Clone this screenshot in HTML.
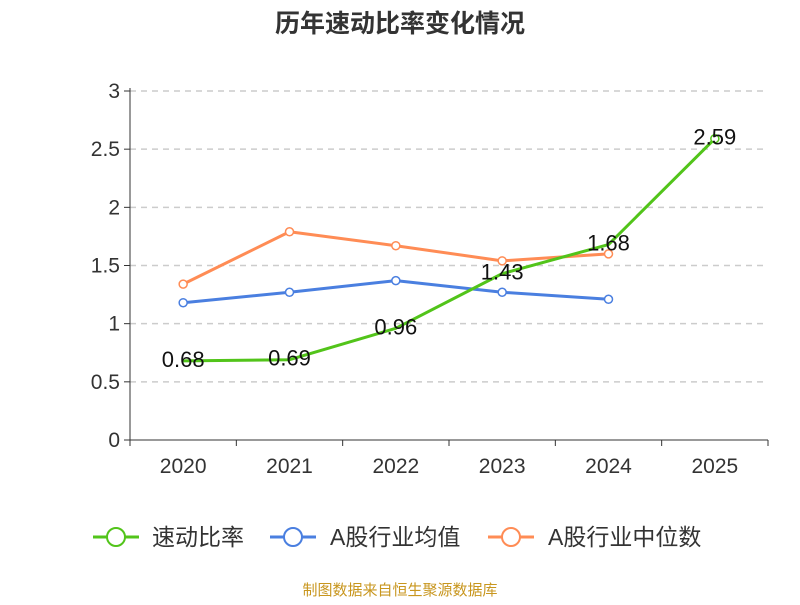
<!DOCTYPE html>
<html><head><meta charset="utf-8"><style>
body{margin:0;background:#fff;font-family:"Liberation Sans","Noto Sans CJK SC",sans-serif}
</style></head><body>
<svg width="800" height="600" xmlns="http://www.w3.org/2000/svg" font-family="Liberation Sans, Noto Sans CJK SC, sans-serif">
<text x="400" y="32" text-anchor="middle" font-size="25" font-weight="bold" fill="#333">历年速动比率变化情况</text>
<g id="grid"></g><g id="axes"></g><g id="series"></g>
<g font-size="23" fill="#333">
<g><line x1="93" y1="537" x2="139" y2="537" stroke="#52c41a" stroke-width="3"/><circle cx="116" cy="537" r="9" fill="#fff" stroke="#52c41a" stroke-width="2"/><text x="152" y="545">速动比率</text></g>
<g><line x1="270" y1="537" x2="316" y2="537" stroke="#4a7fe0" stroke-width="3"/><circle cx="293" cy="537" r="9" fill="#fff" stroke="#4a7fe0" stroke-width="2"/><text x="330" y="545">A股行业均值</text></g>
<g><line x1="488" y1="537" x2="534" y2="537" stroke="#ff8c55" stroke-width="3"/><circle cx="511" cy="537" r="9" fill="#fff" stroke="#ff8c55" stroke-width="2"/><text x="548" y="545">A股行业中位数</text></g>
</g>
<text x="400" y="595" text-anchor="middle" font-size="15" fill="#c8961e">制图数据来自恒生聚源数据库</text>
</svg>
<script>
const categories=["2020","2021","2022","2023","2024","2025"];
const quickRatio=[0.68,0.69,0.96,1.43,1.68,2.59];
const industryMean=[1.18,1.27,1.37,1.27,1.21];
const industryMedian=[1.34,1.79,1.67,1.54,1.60];
const yTicks=[0,0.5,1,1.5,2,2.5,3];
const yTickLabels=["0","0.5","1","1.5","2","2.5","3"];
const NS="http://www.w3.org/2000/svg";
const x0=130,x1=768,yBase=440,yTop=91,yMax=3;
const band=(x1-x0)/categories.length;
const xs=i=>x0+band*(i+0.5);
const ys=v=>yBase-(v/yMax)*(yBase-yTop);
function mk(t,a,p){const e=document.createElementNS(NS,t);for(const k in a)e.setAttribute(k,a[k]);p.appendChild(e);return e;}
const grid=document.getElementById('grid'),axes=document.getElementById('axes'),ser=document.getElementById('series');
yTicks.forEach((v,i)=>{
 if(v>0){const g=mk('line',{x1:x0,x2:x1,y1:ys(v),y2:ys(v),stroke:'#ccc','stroke-dasharray':'6,5','stroke-width':1.5},grid);
 }
 const tk=mk('line',{x1:x0-6,x2:x0,y1:ys(v),y2:ys(v),stroke:'#333'},axes);
 
 const t=mk('text',{x:x0-10,y:ys(v)+7,'text-anchor':'end','font-size':21,fill:'#333'},axes);t.textContent=yTickLabels[i];
 
});
const ya=mk('line',{x1:x0,x2:x0,y1:yTop-3,y2:yBase,stroke:'#333'},axes);

const xa=mk('line',{x1:x0,x2:x1,y1:yBase,y2:yBase,stroke:'#333'},axes);

for(let i=0;i<=categories.length;i++){const tk=mk('line',{x1:x0+band*i,x2:x0+band*i,y1:yBase,y2:yBase+6,stroke:'#333'},axes);
 }
categories.forEach((c,i)=>{const t=mk('text',{x:xs(i),y:473,'text-anchor':'middle','font-size':21,fill:'#333'},axes);t.textContent=c;
 });
function series(data,color,name,labels,showMarkers){
 const g=mk('g',{},ser);
 const pts=data.map((v,i)=>xs(i)+','+ys(v)).join(' ');
 const pl=mk('polyline',{points:pts,fill:'none',stroke:color,'stroke-width':3,'stroke-linejoin':'round'},g);
 
 data.forEach((v,i)=>{
  if(showMarkers||i===data.length-1){const c=mk('circle',{cx:xs(i),cy:ys(v),r:4,fill:'#fff',stroke:color,'stroke-width':1.5},g);
  }
  if(labels){const t=mk('text',{x:xs(i),y:ys(v)+6,'text-anchor':'middle','font-size':22,fill:'#111'},g);t.textContent=v.toFixed(2);
  }
 });
}
series(industryMedian,'#ff8c55','industry-median-series',false,true);
series(industryMean,'#4a7fe0','industry-mean-series',false,true);
series(quickRatio,'#52c41a','quick-ratio-series',true,false);
</script>
</body></html>
